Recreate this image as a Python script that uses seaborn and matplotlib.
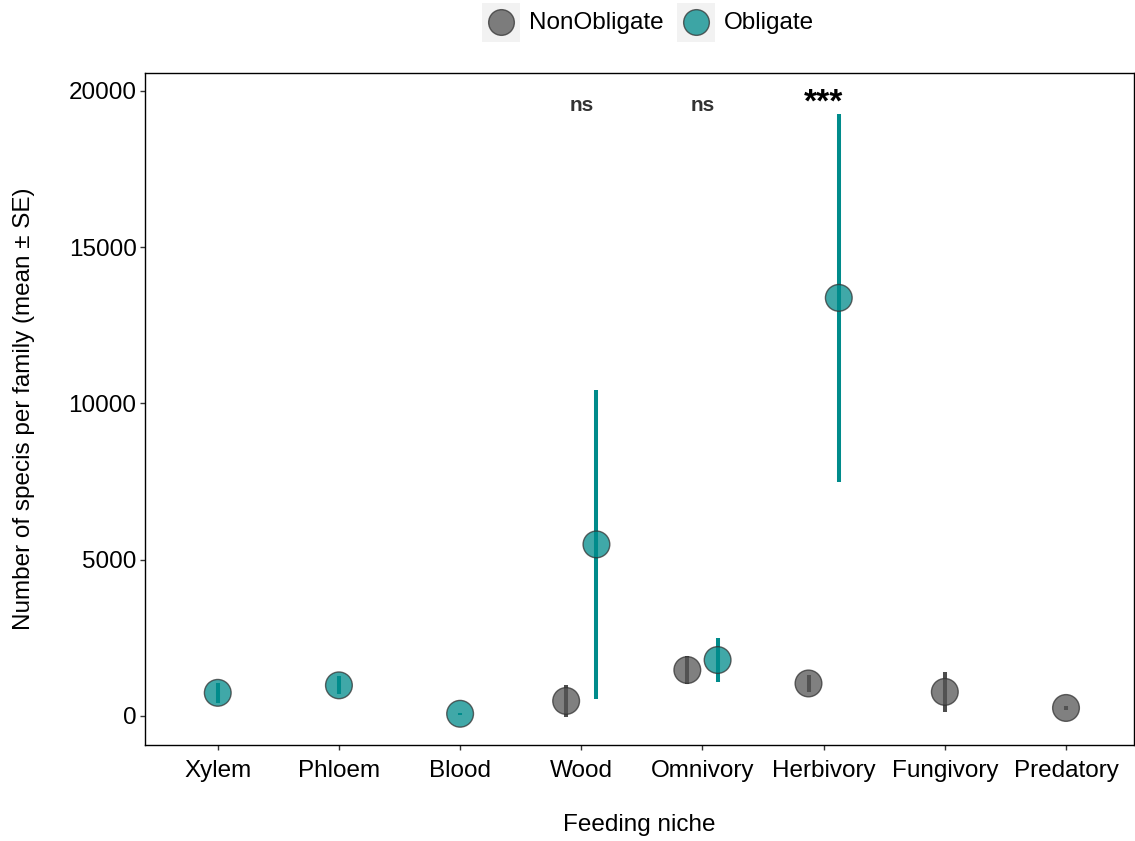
import matplotlib
matplotlib.use("Agg")
import matplotlib.pyplot as plt
from matplotlib.patches import Rectangle
from matplotlib.lines import Line2D
import seaborn as sns
import numpy as np
import pandas as pd

# Feeding niches (x-axis order)
niches = ["Xylem", "Phloem", "Blood", "Wood", "Omnivory", "Herbivory", "Fungivory", "Predatory"]

# Per-group summaries: niche, symbiont status, mean species per family, SE
group_niche = ["Xylem", "Phloem", "Blood", "Wood", "Wood", "Omnivory", "Omnivory",
               "Herbivory", "Herbivory", "Fungivory", "Predatory"]
group_status = ["Obligate", "Obligate", "Obligate", "NonObligate", "Obligate",
                "NonObligate", "Obligate", "NonObligate", "Obligate",
                "NonObligate", "NonObligate"]
group_mean = [740, 980, 70, 480, 5490, 1470, 1790, 1040, 13380, 770, 256]
group_se = [320, 290, 40, 510, 4940, 460, 690, 270, 5890, 640, 60]

# Significance labels per niche
sig_niche = ["Wood", "Omnivory", "Herbivory"]
sig_label = ["ns", "ns", "***"]
sig_y = 19550

statuses = ["NonObligate", "Obligate"]
fill_colors = {"NonObligate": "#555555", "Obligate": "#008B8B"}
bar_colors = {"NonObligate": "#4D4D4D", "Obligate": "#008B8B"}

df = pd.DataFrame({"niche": group_niche, "status": group_status,
                   "mean": group_mean, "se": group_se})

# Dodge positions: groups sharing a niche are spread side by side, lone groups stay centred
dodge = 0.125
xpos = []
for n, s in zip(df["niche"], df["status"]):
    idx = niches.index(n)
    count = (df["niche"] == n).sum()
    if count == 1:
        xpos.append(idx)
    else:
        xpos.append(idx + (-dodge if s == "NonObligate" else dodge))
df["x"] = xpos

sns.set_theme(style="ticks")
plt.rcParams["font.family"] = ["Liberation Sans", "DejaVu Sans"]
plt.rcParams["text.color"] = "black"
plt.rcParams["axes.labelcolor"] = "black"

FS = 17.5

fig = plt.figure(figsize=(11.35, 8.41), dpi=100)
ax = fig.add_axes([0.1278, 0.1142, 0.8712, 0.7990])

for s in statuses:
    sub = df[df["status"] == s]
    ax.errorbar(sub["x"], sub["mean"], yerr=sub["se"], fmt="none",
                ecolor=bar_colors[s], elinewidth=2.9, capsize=0, zorder=2)

sns.scatterplot(data=df, x="x", y="mean", hue="status", hue_order=statuses,
                palette=fill_colors, s=370, alpha=0.75, edgecolor="#333333",
                linewidth=1.0, legend=False, ax=ax, zorder=3)

for n, lab in zip(sig_niche, sig_label):
    if lab == "ns":
        ax.text(niches.index(n), sig_y, lab, ha="center", va="center",
                fontsize=15, fontweight="bold", color="#333333")
    else:
        ax.text(niches.index(n), sig_y + 50, lab, ha="center", va="center",
                fontsize=24, fontweight="bold", color="black")

ax.set_xlim(-0.6, 7.56)
ax.set_ylim(-928, 20576)
ax.set_xticks(range(len(niches)))
ax.set_xticklabels(niches)
ax.set_yticks([0, 5000, 10000, 15000, 20000])
ax.set_yticklabels(["0", "5000", "10000", "15000", "20000"])
ax.tick_params(axis="both", labelsize=FS, length=3.6, width=1, color="#333333",
               labelcolor="black")
ax.tick_params(axis="y", pad=2.5)
ax.tick_params(axis="x", pad=7)
for sp in ax.spines.values():
    sp.set_visible(True)
    sp.set_color("black")
    sp.set_linewidth(1.0)

ax.set_xlabel("Feeding niche", fontsize=FS, labelpad=23)
ax.set_ylabel("Number of specis per family (mean \u00b1 SE)", fontsize=FS, labelpad=24)

# Legend across the top with shaded key backgrounds
key_w, key_h = 38 / 1135, 39 / 841
keys = [(482 / 1135, "NonObligate"), (677 / 1135, "Obligate")]
for kx, s in keys:
    fig.patches.append(Rectangle((kx, 1 - 42 / 841), key_w, key_h,
                                 transform=fig.transFigure, facecolor="#F2F2F2",
                                 edgecolor="none", zorder=1))
    fig.lines.append(Line2D([kx + key_w / 2], [1 - 22 / 841], marker="o",
                            markersize=18.5, markerfacecolor=fill_colors[s],
                            markeredgecolor="#333333", markeredgewidth=1.0,
                            alpha=0.75, linestyle="none",
                            transform=fig.transFigure, zorder=2))
    fig.text(kx + key_w + 9 / 1135, 1 - 23 / 841, s, ha="left", va="center",
             fontsize=FS, color="black")

fig.savefig("out.png", dpi=100)
